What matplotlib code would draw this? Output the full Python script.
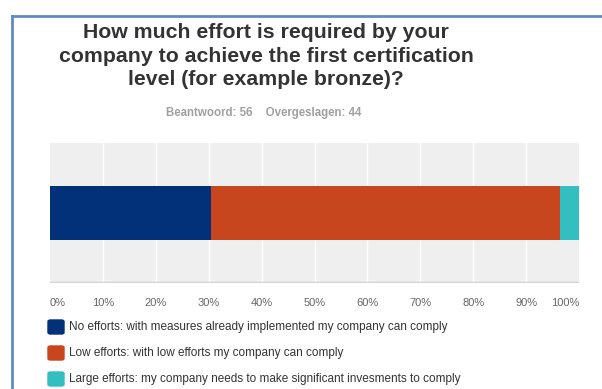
import matplotlib.pyplot as plt
from matplotlib.patches import FancyBboxPatch
from matplotlib.lines import Line2D

plt.rcParams['font.family'] = ['Liberation Sans', 'DejaVu Sans']

# survey answers (56 respondents)
labels = [
    "No efforts: with measures already implemented my company can comply",
    "Low efforts: with low efforts my company can comply",
    "Large efforts: my company needs to make significant invesments to comply",
]
counts = [17, 37, 2]
colors = ['#02317a', '#c8461d', '#33bfbf']
answered = 56
skipped = 44
ticks = list(range(0, 101, 10))

W, H = 602, 389
fig = plt.figure(figsize=(W / 100, H / 100), dpi=100)
fig.patch.set_facecolor('white')

def fx(px):
    return px / W

def fy(py):
    return 1 - py / H

# blue frame at top and left
frame = '#5f8bc4'
fig.add_artist(Line2D([fx(12), 1], [fy(16), fy(16)], color=frame, lw=2))
fig.add_artist(Line2D([fx(12), fx(12)], [fy(16), 0], color=frame, lw=2))

fig.text(fx(266), fy(56), "How much effort is required by your\ncompany to achieve the first certification\nlevel (for example bronze)?",
         ha='center', va='center', fontsize=15.3, fontweight='bold', color='#333333', linespacing=1.3)
fig.text(fx(264), fy(113), f"Beantwoord: {answered}    Overgeslagen: {skipped}",
         ha='center', va='center', fontsize=8.3, fontweight='bold', color='#a0a0a0')

ax = fig.add_axes([fx(50), fy(283), fx(579) - fx(50), fy(143) - fy(283)])
ax.set_facecolor('#efefef')
pct = [c / answered * 100 for c in counts]
left = 0
for p, c in zip(pct, colors):
    ax.barh(0, p, left=left, height=0.76, color=c, zorder=3)
    left += p
ax.set_xlim(0, 100)
ax.set_ylim(-1, 1)
for t in ticks[1:-1]:
    ax.axvline(t, color='white', lw=1, zorder=1)
for s in ax.spines.values():
    s.set_visible(False)
ax.axhline(-1, color='#d5d5d5', lw=2.5, zorder=4)
ax.set_yticks([])
ax.set_xticks(ticks)
ax.set_xticklabels([f"{t}%" for t in ticks], fontsize=8, color='#666666')
ax.tick_params(axis='x', length=0, pad=11)
tl = ax.get_xticklabels()
tl[0].set_ha('left')
tl[-1].set_ha('right')

# legend
for i, (lab, c) in enumerate(zip(labels, colors)):
    yc = 327 + i * 26
    fig.add_artist(FancyBboxPatch((fx(48), fy(yc + 7)), fx(16), 14 / H,
                                  boxstyle='round,pad=0,rounding_size=0.004',
                                  transform=fig.transFigure, color=c))
    fig.text(fx(69), fy(yc), lab, ha='left', va='center', fontsize=8.5, color='#333333')

fig.savefig('out.png', dpi=100)
